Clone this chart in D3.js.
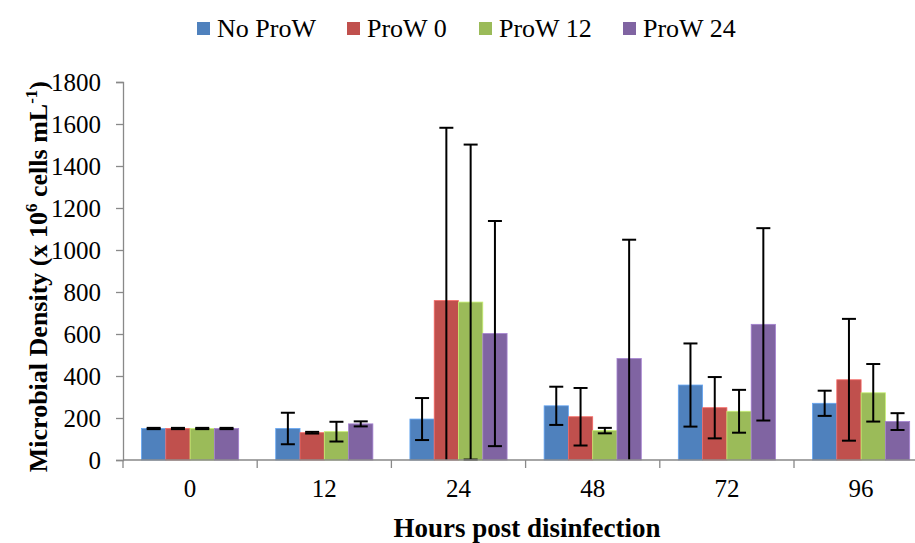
<!DOCTYPE html>
<html>
<head>
<meta charset="utf-8">
<script src="https://cdn.jsdelivr.net/npm/d3@7"></script>
<style>
  html, body { margin: 0; padding: 0; background: #fff; }
  svg { display: block; }
  text { font-family: "Liberation Serif", "Times New Roman", serif; fill: #000; }
</style>
</head>
<body>
<div id="chart"></div>
<script>
// Sampling times (hours after disinfection)
const categories = ["0", "12", "24", "48", "72", "96"];
const seriesNames = ["No ProW", "ProW 0", "ProW 12", "ProW 24"];
const seriesColors = ["#4F81BD", "#C0504D", "#9BBB59", "#8064A2"];

// Mean microbial density (x 10^6 cells/mL) per series, one entry per time point
const noProW  = [150, 150, 195, 258, 357, 270];
const proW0   = [150, 130, 759, 206, 249, 382];
const proW12  = [150, 135, 752, 140, 232, 320];
const proW24  = [150, 172, 602, 483, 646, 183];

// Standard deviations (symmetric error bars)
const noProWErr = [3, 75, 100, 91, 198, 60];
const proW0Err  = [3, 4, 823, 137, 146, 290];
const proW12Err = [3, 47, 750, 13, 102, 137];
const proW24Err = [3, 12, 536, 566, 458, 40];

const yTicks = [0, 200, 400, 600, 800, 1000, 1200, 1400, 1600, 1800];

const means = [noProW, proW0, proW12, proW24];
const errs = [noProWErr, proW0Err, proW12Err, proW24Err];

const W = 915, H = 543;
const plotLeft = 123, plotBottom = 460, plotTop = 82;
const step = 134.2;

const svg = d3.select("#chart").append("svg")
  .attr("width", W).attr("height", H);

const x0 = d3.scaleBand().domain(categories)
  .range([plotLeft, plotLeft + step * categories.length]).padding(0);
const bw = x0.bandwidth();
const x1 = d3.scaleBand().domain(seriesNames)
  .range([bw * 0.138, bw * 0.862]).padding(0);
const y = d3.scaleLinear().domain([0, 1800]).range([plotBottom, plotTop]);

const rows = [];
categories.forEach((c, i) => {
  seriesNames.forEach((s, j) => {
    rows.push({ cat: c, series: s, color: seriesColors[j], v: means[j][i], e: errs[j][i] });
  });
});

// Bars
svg.append("g").selectAll("rect").data(rows).join("rect")
  .attr("x", d => x0(d.cat) + x1(d.series))
  .attr("y", d => y(d.v))
  .attr("width", x1.bandwidth())
  .attr("height", d => y(0) - y(d.v))
  .attr("fill", d => d.color)
  .attr("stroke", d => d3.color(d.color).brighter(0.7))
  .attr("stroke-width", 0.8);

// Error bars, clipped to the plot floor
const eb = svg.append("g").attr("stroke", "#000").attr("stroke-width", 2);
const capHalf = 7;
rows.forEach(d => {
  const cx = x0(d.cat) + x1(d.series) + x1.bandwidth() / 2;
  const hi = d.v + d.e, lo = d.v - d.e;
  const yHi = y(hi), yLo = y(Math.max(lo, 0));
  eb.append("line").attr("x1", cx).attr("x2", cx).attr("y1", yHi).attr("y2", yLo);
  eb.append("line").attr("x1", cx - capHalf).attr("x2", cx + capHalf).attr("y1", yHi).attr("y2", yHi);
  if (lo >= 0) {
    eb.append("line").attr("x1", cx - capHalf).attr("x2", cx + capHalf).attr("y1", yLo).attr("y2", yLo);
  }
});

const axisColor = "#898989";

// Y axis
const yAxis = svg.append("g").attr("transform", `translate(${plotLeft},0)`)
  .call(d3.axisLeft(y).tickValues(yTicks).tickSize(7).tickPadding(15).tickFormat(d3.format("d")));
yAxis.select(".domain").attr("stroke", axisColor).attr("stroke-width", 1.3);
yAxis.selectAll(".tick line").attr("stroke", axisColor).attr("stroke-width", 1.3);
yAxis.selectAll("text").attr("font-size", 25).attr("font-family", "Liberation Serif").attr("fill", "#000");

// X axis: labels centred in each band, ticks on band boundaries
const xAxis = svg.append("g").attr("transform", `translate(0,${plotBottom})`)
  .call(d3.axisBottom(x0).tickSize(0).tickPadding(19));
xAxis.select(".domain").remove();
xAxis.selectAll("text").attr("font-size", 25).attr("font-family", "Liberation Serif").attr("fill", "#000");
xAxis.append("line").attr("x1", plotLeft).attr("x2", W).attr("y1", 0).attr("y2", 0)
  .attr("stroke", axisColor).attr("stroke-width", 1.3);
xAxis.selectAll(".bound").data(categories).join("line").attr("class", "bound")
  .attr("x1", d => x0(d)).attr("x2", d => x0(d))
  .attr("y1", 0).attr("y2", 8)
  .attr("stroke", axisColor).attr("stroke-width", 1.3);

// Axis titles
svg.append("text")
  .attr("x", 527).attr("y", 537)
  .attr("text-anchor", "middle")
  .attr("font-size", 27).attr("font-weight", "bold")
  .text("Hours post disinfection");

const yt = svg.append("text")
  .attr("transform", "translate(47,81) rotate(-90)")
  .attr("text-anchor", "end")
  .attr("font-size", 26).attr("font-weight", "bold");
yt.append("tspan").text("Microbial Density (x 10");
yt.append("tspan").attr("font-size", 17).attr("dy", -10).text("6");
yt.append("tspan").attr("dy", 10).text(" cells mL");
yt.append("tspan").attr("font-size", 17).attr("dy", -10).text("-1");
yt.append("tspan").attr("dy", 10).text(")");

// Legend
const legendX = [197, 347, 479, 623];
const lg = svg.append("g");
seriesNames.forEach((s, j) => {
  lg.append("rect").attr("x", legendX[j]).attr("y", 22).attr("width", 13).attr("height", 13)
    .attr("fill", seriesColors[j]);
  lg.append("text").attr("x", legendX[j] + 20).attr("y", 37)
    .attr("font-size", 26).text(s);
});
</script>
</body>
</html>
